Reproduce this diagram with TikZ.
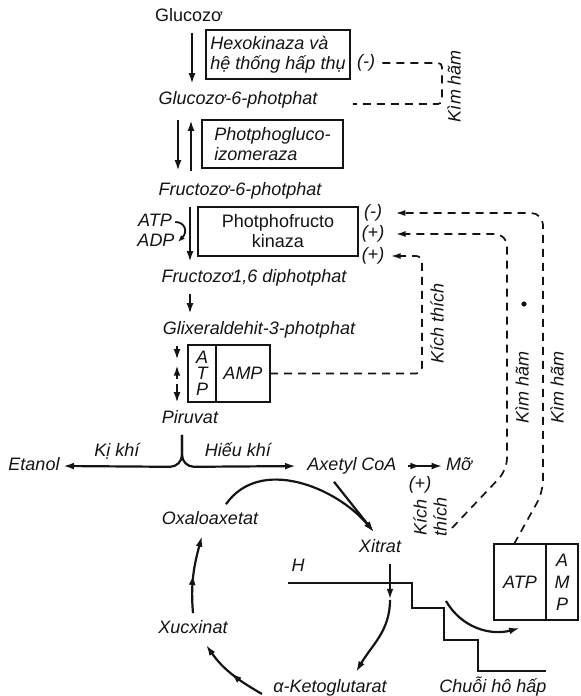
\documentclass[tikz,border=0pt]{standalone}
\usepackage{fontspec}
\setmainfont{Liberation Sans}
\usepackage{tikz}
\usetikzlibrary{arrows.meta, positioning, calc, decorations.markings}
\usepackage{xcolor}
\definecolor{Ink}{HTML}{141414}
\newcommand{\metfont}{\itshape\fontsize{9}{10}\selectfont}
\newcommand{\uprfont}{\upshape\fontsize{9}{10}\selectfont}
\tikzset{
  met/.style={font=\metfont, text=Ink, inner xsep=1.5pt, inner ysep=3.5pt,
    text height=6.5pt, text depth=1.9pt},
  sgn/.style={font=\metfont, text=Ink, inner sep=1.5pt},
  lbl/.style={font=\metfont, text=Ink, inner sep=1pt, rotate=90, align=center},
  ebox/.style={draw=Ink, line width=1.2pt, outer sep=0pt, inner sep=2pt,
    align=left, font=\metfont, text=Ink},
  hbox/.style={draw=Ink, line width=1.2pt, outer sep=0pt, inner sep=1pt,
    align=center, font=\itshape\fontsize{9}{8}\selectfont, text=Ink},
  flow/.style={-{Latex[length=5.5pt, width=3.4pt]}, line width=1.1pt, draw=Ink},
  curl/.style={-{Latex[length=3.5pt, width=2.6pt]}, line width=0.9pt, draw=Ink},
  midflow/.style={flow, postaction={decorate}, decoration={markings,
    mark=at position 0.5 with {\arrow{Latex[length=5.5pt, width=3.4pt]}}}},
  ctrl/.style={draw=Ink, line width=0.85pt, dash pattern=on 4pt off 3pt},
  ctrlq/.style={ctrl, -{Latex[length=5pt, width=3pt]}},
  stair/.style={draw=Ink, line width=1.1pt},
}

\begin{document}
\begin{tikzpicture}[x=0.5pt, y=-0.5pt]
  \useasboundingbox (0,0) rectangle (580,696);
  \coordinate (cA) at (192,0); \coordinate (cB) at (178,0);
  \coordinate (cC) at (191,0); \coordinate (cD) at (190,0);
  \coordinate (cE) at (177,0); \coordinate (fork) at (182,0);

  \node[met, font=\uprfont] (glc) at (189,17) {Glucozơ};
  \node[ebox, minimum width=72pt, minimum height=24.5pt] (hk) at (278,54.5) {Hexokinaza và\\hệ thống hấp thụ};
  \node[sgn] (inh0) at (366,63) {(-)};
  \node[lbl] (kh0) at (454,86) {Kìm hãm};
  \node[met] (g6p) at (238,100) {Glucozơ-6-photphat};
  \node[ebox, minimum width=70.5pt, minimum height=24pt] (pgi) at (272.5,144) {Photphogluco-\\izomeraza};
  \node[met] (f6p) at (240,191) {Fructozơ-6-photphat};
  \node[ebox, font=\uprfont, align=center, minimum width=80pt, minimum height=24.5pt] (pfk) at (278,231.5) {Photphofructo\\kinaza};
  \node[met] (atp1) at (155,222) {ATP};
  \node[met] (adp1) at (156,242) {ADP};
  \node[sgn] (inh1) at (373,213) {(-)};
  \node[sgn] (act1) at (373,234) {(+)};
  \node[sgn] (act2) at (373,256) {(+)};
  \node[met] (f16) at (254,278) {Fructozơ1,6 diphotphat};
  \node[met] (gap) at (259,330) {Glixeraldehit-3-photphat};
  \node[hbox, minimum width=14pt, minimum height=28.5pt] (atpL) at (202,373.5) {A\\T\\P};
  \node[hbox, minimum width=27pt, minimum height=28.5pt, right=0pt of atpL] (ampR) {AMP};
  \node[lbl] (kt1) at (437,323) {Kích thích};
  \node[lbl] (kh1) at (522,387) {Kìm hãm};
  \node[lbl] (kh2) at (557,387) {Kìm hãm};
  \node[met] (pyr) at (190,419) {Piruvat};
  \node[met] (eth) at (34,466) {Etanol};
  \node[met] (acoa) at (352,466) {Axetyl CoA};
  \node[met] (fat) at (459,466) {Mỡ};
  \node[met] (anae) at (117,452) {Kị khí};
  \node[met] (aero) at (238,452) {Hiếu khí};
  \node[sgn] (act3) at (420,485) {(+)};
  \node[lbl] (kt2) at (430,517) {Kích\\thích};
  \node[met] (oaa) at (210,520) {Oxaloaxetat};
  \node[met] (cit) at (380,548) {Xitrat};
  \node[met] (hh) at (298,567) {H};
  \node[met] (suc) at (193,629) {Xucxinat};
  \node[met] (akg) at (330,688) {α-Ketoglutarat};
  \node[met] (resp) at (493,688) {Chuỗi hô hấp};
  \node[hbox, minimum width=26pt, minimum height=38pt] (atpR) at (520,582) {ATP};
  \node[hbox, font=\itshape\fontsize{9}{11}\selectfont, minimum width=16pt, minimum height=38pt, right=0pt of atpR] (ampB) {A\\M\\P};
  \coordinate (citup) at (452,528);
  \coordinate (chainout) at (446,601);

  \draw[flow] (glc.south -| cA) -- (g6p.north -| cA);
  \draw[flow, shorten <=2pt, shorten >=2pt] (g6p.south -| cB) -- (f6p.north -| cB);
  \draw[flow, shorten <=2pt, shorten >=2pt] (f6p.north -| cC) -- (g6p.south -| cC);
  \draw[flow] (f6p.south -| cD) -- (f16.north -| cD);
  \draw[curl] (atp1.east) .. controls +(10,0) and +(10,-10) .. (adp1.east);
  \draw[flow] (f16.south -| cD) -- (gap.north -| cD);
  \path (gap.south -| cE) coordinate (g1) (pyr.north -| cE) coordinate (g2);
  \draw[flow] (g1) -- ($(g1)!0.25!(g2)$);
  \draw[flow] ($(g1)!0.58!(g2)$) -- ($(g1)!0.33!(g2)$);
  \draw[flow] ($(g1)!0.66!(g2)$) -- (g2);
  \draw[flow] (pyr.south -| fork) -- ++(0,20) to[out=-90, in=0] ++(-12,12) -- (eth.east);
  \draw[flow, shorten >=4pt] (pyr.south -| fork) -- ++(0,20) to[out=-90, in=180] ++(12,12) -- (acoa.west);
  \draw[midflow, shorten <=4pt] (acoa.east) -- (fat.west);

  \draw[flow] ([xshift=8pt]oaa.north) to[out=55, in=130] ([xshift=-3pt]cit.north);
  \draw[flow] ([xshift=-9pt]acoa.south) -- ([xshift=-3pt]cit.north);
  \draw[flow] ([xshift=5pt]cit.south) -- ++(0,36) coordinate (citdown);
  \draw[flow] (citdown) to[out=-90, in=60] ([xshift=13pt]akg.north);
  \draw[midflow] ([shift={(-8,6)}]akg.west) to[out=150, in=-55] ([xshift=6.5pt]suc.south);
  \draw[midflow] (suc.north) to[out=95, in=-105] ([xshift=-4pt]oaa.south);

  \draw[stair] (hh.south west) -| (412,608) -| (444,640) -| (478,671) -- (546,671);
  \draw[flow] (chainout) to[out=-60, in=195] ([yshift=-4pt]atpR.south);

  \draw[ctrl, rounded corners=2pt, shorten <=2pt] (inh0.east) -- (442,63) -- (442,104) -- ([xshift=16pt, yshift=-2pt]g6p.east);
  \draw[ctrlq, rounded corners=6pt, shorten >=5pt] ([xshift=-3pt]atpR.north) -- (543,492) -- (543,213) -- (inh1.east);
  \draw[ctrlq, rounded corners=6pt, shorten >=4pt] (citup) -- (507,470) -- (507,234) -- (act1.east);
  \draw[ctrlq, rounded corners=3pt, shorten >=1.5pt] (ampR.east) -- (422,373.5) -- (422,256) -- (act2.east);
  \fill[Ink] (524,304) circle[radius=1.3pt];
\end{tikzpicture}
\end{document}
